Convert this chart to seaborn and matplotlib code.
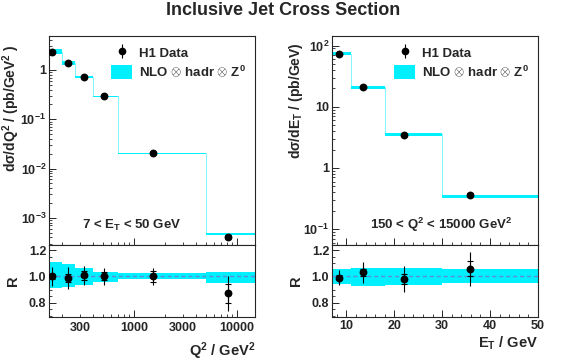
import numpy as np
import matplotlib
matplotlib.use("Agg")
import matplotlib.pyplot as plt
import matplotlib.ticker as mticker
from matplotlib.patches import Patch
import seaborn as sns

# Q2 distribution (7 < ET < 50 GeV)
q2_edges = [150, 200, 270, 400, 700, 5000, 15000]
q2_points = [160, 229, 326, 510, 1520, 8130]
q2_data = [2.36, 1.37, 0.73, 0.29, 0.0203, 4.1e-4]
q2_nlo = [2.36, 1.38, 0.72, 0.29, 0.0203, 4.7e-4]
q2_ratio = [1.0, 0.99, 1.01, 1.0, 1.0, 0.87]
q2_tot = [0.07, 0.083, 0.073, 0.063, 0.068, 0.135]
q2_stat = [0.02, 0.03, 0.035, 0.03, 0.04, 0.073]
q2_band_hi = [1.107, 1.094, 1.066, 1.035, 1.027, 1.035]
q2_band_lo = [0.909, 0.917, 0.937, 0.956, 0.977, 0.948]

# ET distribution (150 < Q2 < 15000 GeV2)
et_edges = [7, 11, 18, 30, 50]
et_points = [8.45, 13.4, 22.0, 35.9]
et_data = [73, 21.5, 3.47, 0.366]
et_nlo = [73.7, 20.9, 3.54, 0.345]
et_ratio = [0.99, 1.03, 0.98, 1.06]
et_tot = [0.058, 0.08, 0.097, 0.13]
et_stat = [0.02, 0.03, 0.04, 0.055]
et_band_hi = [1.053, 1.068, 1.068, 1.053]
et_band_lo = [0.943, 0.93, 0.937, 0.953]

CYAN = "#00f0ff"

sns.set_style("ticks")
plt.rcParams["font.family"] = ["Liberation Sans", "DejaVu Sans"]
plt.rcParams["font.weight"] = "bold"
plt.rcParams["mathtext.fontset"] = "custom"
plt.rcParams["mathtext.rm"] = "Liberation Sans:bold"
plt.rcParams["mathtext.it"] = "Liberation Sans:bold"
plt.rcParams["mathtext.bf"] = "Liberation Sans:bold"
plt.rcParams["mathtext.default"] = "rm"
plt.rcParams["xtick.direction"] = "in"
plt.rcParams["ytick.direction"] = "in"
plt.rcParams["axes.linewidth"] = 0.8

fig = plt.figure(figsize=(5.67, 3.64), dpi=100)
ax_q2 = fig.add_axes([0.0864, 0.3269, 0.3633, 0.5742])
ax_q2r = fig.add_axes([0.0864, 0.1291, 0.3633, 0.1978], sharex=ax_q2)
ax_et = fig.add_axes([0.5855, 0.3269, 0.3633, 0.5742])
ax_etr = fig.add_axes([0.5855, 0.1291, 0.3633, 0.1978], sharex=ax_et)


def draw_main(ax, edges, points, data, nlo, ratio, tot, stat, lo, hi):
    nlo = np.array(nlo)
    ax.stairs(nlo * np.array(hi), edges, baseline=nlo * np.array(lo),
              fill=True, color=CYAN, lw=0)
    ax.stairs(nlo, edges, baseline=None, color=CYAN, lw=0.5, alpha=0.7)
    rel_tot = np.array(tot) / np.array(ratio)
    rel_stat = np.array(stat) / np.array(ratio)
    data = np.array(data)
    ax.errorbar(points, data, yerr=data * rel_tot, fmt="none", ecolor="black",
                elinewidth=0.8)
    ax.errorbar(points, data, yerr=data * rel_stat, fmt="none", ecolor="black",
                elinewidth=0.8, capsize=2.5, capthick=0.8)
    sns.scatterplot(x=points, y=data, ax=ax, color="black", s=32,
                    edgecolor="black", linewidth=0, zorder=5, legend=False)
    ax.set_yscale("log")


def draw_ratio(ax, edges, points, ratio, tot, stat, lo, hi):
    ax.stairs(hi, edges, baseline=lo, fill=True, color=CYAN, lw=0)
    ax.axhline(1.0, color="#5b8fd6", lw=1.0, ls=(0, (3, 2)))
    ax.errorbar(points, ratio, yerr=tot, fmt="none", ecolor="black",
                elinewidth=0.8)
    ax.errorbar(points, ratio, yerr=stat, fmt="none", ecolor="black",
                elinewidth=0.8, capsize=2.5, capthick=0.8)
    sns.scatterplot(x=points, y=ratio, ax=ax, color="black", s=32,
                    linewidth=0, zorder=5, legend=False)
    ax.set_ylim(0.69, 1.24)
    ax.yaxis.set_major_locator(mticker.FixedLocator([0.8, 1.0, 1.2]))
    ax.yaxis.set_major_formatter(mticker.FixedFormatter(["0.8", "1.0", "1.2"]))
    ax.yaxis.set_minor_locator(mticker.MultipleLocator(0.05))
    ax.set_ylabel("R", fontsize=10.5, fontweight="bold")
    ax.yaxis.set_label_coords(-0.14, 0.5)


draw_main(ax_q2, q2_edges, q2_points, q2_data, q2_nlo, q2_ratio, q2_tot,
          q2_stat, q2_band_lo, q2_band_hi)
draw_main(ax_et, et_edges, et_points, et_data, et_nlo, et_ratio, et_tot,
          et_stat, et_band_lo, et_band_hi)
draw_ratio(ax_q2r, q2_edges, q2_points, q2_ratio, q2_tot, q2_stat,
           q2_band_lo, q2_band_hi)
draw_ratio(ax_etr, et_edges, et_points, et_ratio, et_tot, et_stat,
           et_band_lo, et_band_hi)

# axes ranges and ticks
ax_q2.set_xscale("log")
ax_q2.set_xlim(150, 15000)
ax_q2.set_ylim(2.8e-4, 4.9)
ax_q2.yaxis.set_major_locator(mticker.FixedLocator([1e-3, 1e-2, 1e-1, 1]))
ax_q2.yaxis.set_major_formatter(mticker.FixedFormatter(
    [r"$10^{-3}$", r"$10^{-2}$", r"$10^{-1}$", "1"]))
ax_q2.yaxis.set_minor_locator(mticker.LogLocator(base=10, subs=np.arange(2, 10)))
ax_q2.yaxis.set_minor_formatter(mticker.NullFormatter())
ax_q2r.xaxis.set_major_locator(mticker.FixedLocator([1000, 10000]))
ax_q2r.xaxis.set_minor_locator(mticker.LogLocator(base=10, subs=np.arange(2, 10)))
ax_q2r.xaxis.set_major_formatter(mticker.NullFormatter())
ax_q2r.xaxis.set_minor_formatter(mticker.NullFormatter())
for v, s in [(300, "300"), (1000, "1000"), (3000, "3000"), (10000, "10000")]:
    ax_q2r.text(v, -0.07, s, transform=ax_q2r.get_xaxis_transform(),
                ha="center", va="top", fontsize=9, fontweight="bold")

ax_et.set_xlim(7, 50)
ax_et.set_ylim(0.055, 144)
ax_et.yaxis.set_major_locator(mticker.FixedLocator([0.1, 1, 10, 100]))
ax_et.yaxis.set_major_formatter(mticker.FixedFormatter(
    [r"$10^{-1}$", "1", "10", r"$10^{2}$"]))
ax_et.yaxis.set_minor_locator(mticker.LogLocator(base=10, subs=np.arange(2, 10)))
ax_et.yaxis.set_minor_formatter(mticker.NullFormatter())
ax_etr.xaxis.set_major_locator(mticker.MultipleLocator(10))
ax_etr.xaxis.set_minor_locator(mticker.MultipleLocator(2))

for ax in (ax_q2, ax_et):
    ax.tick_params(axis="x", which="both", labelbottom=False)

for ax in (ax_q2, ax_q2r, ax_et, ax_etr):
    ax.tick_params(which="major", length=5, width=0.7, labelsize=9, pad=2)
    ax.tick_params(which="minor", length=2.5, width=0.6)
    for lab in ax.get_xticklabels() + ax.get_yticklabels():
        lab.set_fontweight("bold")

# labels
ax_q2.set_ylabel(r"d$\sigma$/dQ$^2$ / (pb/GeV$^2$ )", fontsize=10,
                 fontweight="bold")
ax_q2.yaxis.set_label_coords(-0.132, 0.655)
ax_et.set_ylabel(r"d$\sigma$/dE$_T$ / (pb/GeV)", fontsize=10,
                 fontweight="bold")
ax_et.yaxis.set_label_coords(-0.13, 0.69)
ax_q2r.set_xlabel(r"Q$^2$ / GeV$^2$", fontsize=10.5, fontweight="bold")
ax_q2r.xaxis.set_label_coords(1.0, -0.32)
ax_q2r.xaxis.label.set_ha("right")
ax_etr.set_xlabel(r"E$_T$ / GeV", fontsize=10.5, fontweight="bold")
ax_etr.xaxis.set_label_coords(1.0, -0.25)
ax_etr.xaxis.label.set_ha("right")

ax_q2.text(0.4, 0.095, r"7 < E$_T$ < 50 GeV", transform=ax_q2.transAxes,
           ha="center", va="center", fontsize=9.5, fontweight="bold")
ax_et.text(0.53, 0.095, r"150 < Q$^2$ < 15000 GeV$^2$", transform=ax_et.transAxes,
           ha="center", va="center", fontsize=9.5, fontweight="bold")

# legends
for ax in (ax_q2, ax_et):
    h_data = ax.errorbar([], [], yerr=[], fmt="o", color="black", ms=4.5,
                         elinewidth=0.8, capsize=2.5)
    h_nlo = Patch(facecolor=CYAN, edgecolor="none")
    ax.legend([h_data, h_nlo], ["H1 Data", r"NLO $\otimes$ hadr $\otimes$ Z$^{0}$"],
              loc="upper right", bbox_to_anchor=(1.0, 1.0), frameon=False,
              prop={"size": 9.5, "weight": "bold"}, handlelength=1.6,
              handleheight=1.3, handletextpad=0.5, labelspacing=0.3,
              borderaxespad=0.3)

fig.suptitle("Inclusive Jet Cross Section", x=0.5, y=0.995, fontsize=13,
             fontweight="bold")

fig.savefig("out.png", dpi=100)
